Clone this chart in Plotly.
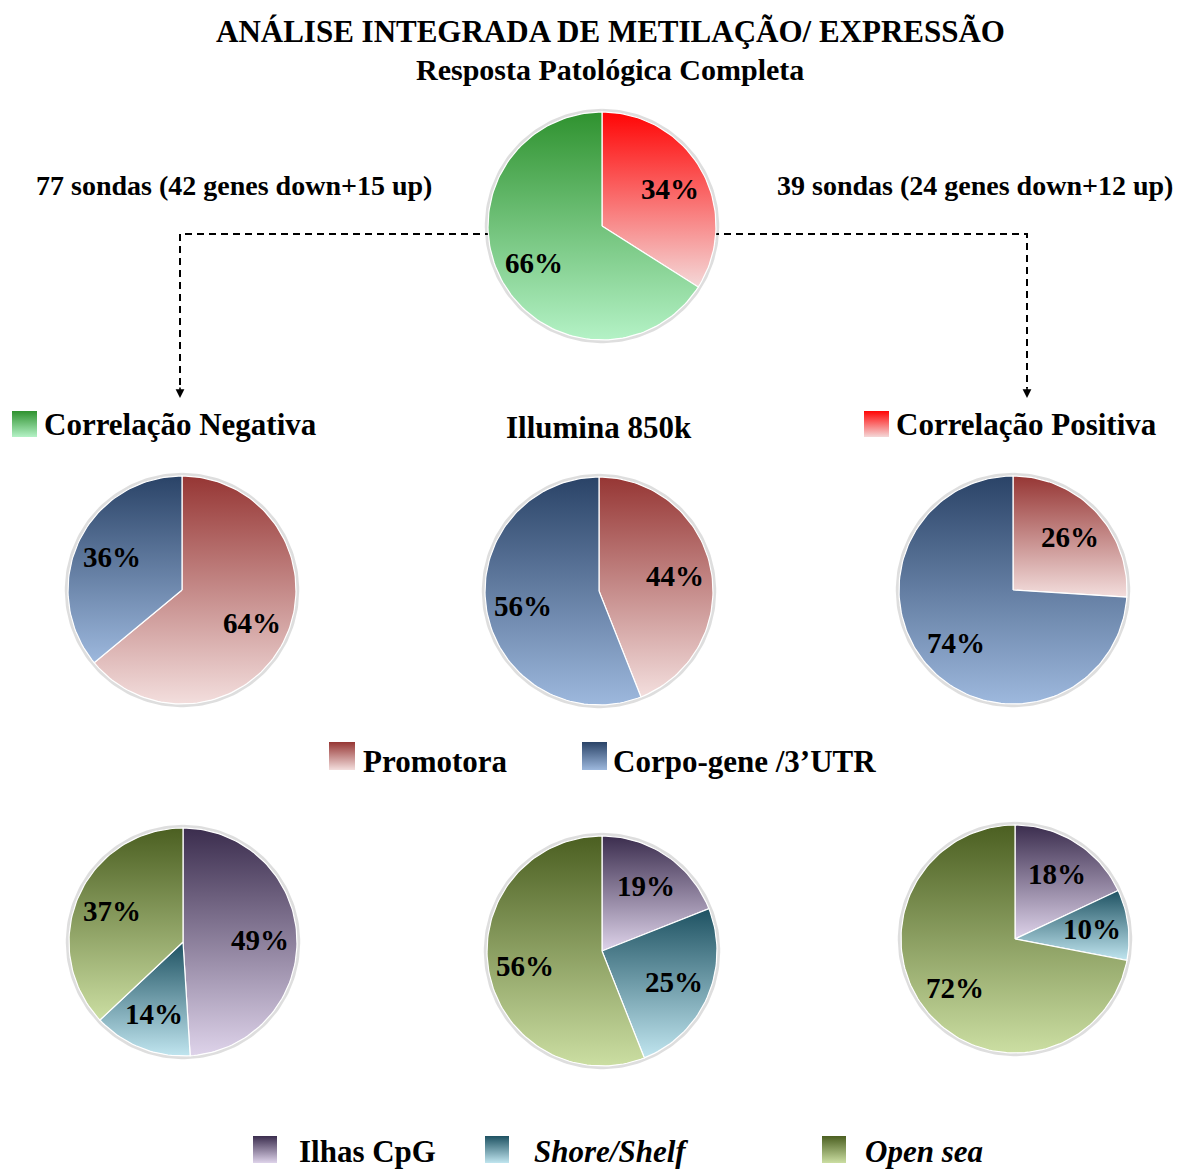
import numpy as np
import plotly.graph_objects as go

# ---- data -------------------------------------------------------------
top_labels = ["Correlação Positiva", "Correlação Negativa"]
top_values = [34, 66]

region_labels = ["Promotora", "Corpo-gene /3’UTR"]
region_negativa = [64, 36]
region_illumina = [44, 56]
region_positiva = [26, 74]

cpg_labels = ["Ilhas CpG", "Shore/Shelf", "Open sea"]
cpg_negativa = [49, 14, 37]
cpg_illumina = [19, 25, 56]
cpg_positiva = [18, 10, 72]

# ---- styling ----------------------------------------------------------
SERIF = "Liberation Serif"
top_colors = [("#ff0505", "#f4d8d8"), ("#2f922f", "#b4f2c6")]
region_colors = [("#963634", "#f3dedd"), ("#2a4367", "#9db8dd")]
cpg_colors = [("#3b2d4e", "#ded3ea"), ("#1e5262", "#c0e5ef"), ("#4b5f21", "#cbdea2")]

fig = go.Figure()


def gradient(c_top, c_bot):
    # vertical gradient: dark at the top edge, light at the bottom edge
    return dict(type="vertical", colorscale=[[0, c_bot], [1, c_top]])


def add_pie(values, colors, cx, cy, r, label_frac=0.68, font_size=29):
    """Draw a pie clockwise from 12 o'clock as gradient-filled wedges."""
    total = float(sum(values))
    # soft halo around the disc
    t = np.linspace(0, 2 * np.pi, 200)
    fig.add_trace(go.Scatter(x=cx + (r + 1.5) * np.sin(t), y=cy - (r + 1.5) * np.cos(t),
                             mode="lines", line=dict(color="rgba(0,0,0,0.13)", width=3.5),
                             hoverinfo="skip"))
    start = 0.0
    for v, (c_top, c_bot) in zip(values, colors):
        frac = v / total
        a0, a1 = start * 2 * np.pi, (start + frac) * 2 * np.pi
        ang = np.linspace(a0, a1, max(8, int(200 * frac)))
        xs = np.concatenate([[cx], cx + r * np.sin(ang), [cx]])
        ys = np.concatenate([[cy], cy - r * np.cos(ang), [cy]])
        fig.add_trace(go.Scatter(
            x=xs, y=ys, mode="lines", fill="toself",
            line=dict(color="white", width=1.2),
            fillgradient=gradient(c_top, c_bot),
            hoverinfo="skip"))
        mid = (start + frac / 2) * 2 * np.pi
        fig.add_annotation(x=cx + label_frac * r * np.sin(mid), y=cy - label_frac * r * np.cos(mid),
                           text=f"<b>{v}%</b>", showarrow=False,
                           font=dict(family=SERIF, size=font_size, color="black"))
        start += frac


def add_swatch(x0, y0, w, h, c_top, c_bot):
    fig.add_trace(go.Scatter(
        x=[x0, x0 + w, x0 + w, x0, x0], y=[y0, y0, y0 + h, y0 + h, y0],
        mode="lines", fill="toself", line=dict(width=0, color="rgba(0,0,0,0)"),
        fillgradient=gradient(c_top, c_bot),
        hoverinfo="skip"))


def add_text(x, y, text, size, anchor="center", italic=False):
    body = f"<i>{text}</i>" if italic else text
    fig.add_annotation(x=x, y=y, text=f"<b>{body}</b>", showarrow=False, xanchor=anchor,
                       font=dict(family=SERIF, size=size, color="black"))


# ---- dashed connectors ------------------------------------------------
dash = dict(color="black", width=2, dash="7px,5px")
fig.add_shape(type="path", path="M 492,234 L 180,234 L 180,388", line=dash, layer="below")
fig.add_shape(type="path", path="M 712,234 L 1027,234 L 1027,388", line=dash, layer="below")
for ax_x in (180, 1027):
    fig.add_annotation(x=ax_x, y=398, ax=ax_x, ay=386, axref="x", ayref="y",
                       text="", showarrow=True, arrowhead=2, arrowsize=1.1,
                       arrowwidth=1.6, arrowcolor="black")

# ---- pies -------------------------------------------------------------
R = 114
add_pie(top_values, top_colors, 602, 226, R)

add_pie(region_negativa, region_colors, 182, 590, R)
add_pie(region_illumina, region_colors, 599, 591, R)
add_pie(region_positiva, region_colors, 1013, 590, R)

add_pie(cpg_negativa, cpg_colors, 183, 942, R)
add_pie(cpg_illumina, cpg_colors, 602, 951, R + 1)
add_pie(cpg_positiva, cpg_colors, 1015, 939, R)

# ---- texts ------------------------------------------------------------
add_text(610, 31, "ANÁLISE INTEGRADA DE METILAÇÃO/ EXPRESSÃO", 31)
add_text(610, 69, "Resposta Patológica Completa", 30)
add_text(234, 185, "77 sondas (42 genes down+15 up)", 28)
add_text(975, 185, "39 sondas (24 genes down+12 up)", 28)

add_swatch(12, 411, 25, 26, *top_colors[1])
add_text(42, 424, top_labels[1], 31, anchor="left")
add_text(599, 427, "Illumina 850k", 31)
add_swatch(864, 411, 25, 26, *top_colors[0])
add_text(894, 424, top_labels[0], 31, anchor="left")

# region legend
add_swatch(329, 742, 26, 28, *region_colors[0])
add_text(361, 761, region_labels[0], 31, anchor="left")
add_swatch(582, 742, 25, 28, *region_colors[1])
add_text(611, 761, region_labels[1], 31, anchor="left")

# CpG context legend
add_swatch(253, 1136, 24, 27, *cpg_colors[0])
add_text(297, 1151, cpg_labels[0], 31, anchor="left")
add_swatch(485, 1136, 24, 27, *cpg_colors[1])
add_text(532, 1151, cpg_labels[1], 31, anchor="left", italic=True)
add_swatch(822, 1136, 24, 27, *cpg_colors[2])
add_text(863, 1151, cpg_labels[2], 31, anchor="left", italic=True)

fig.update_layout(
    width=1177, height=1169, margin=dict(l=0, r=0, t=0, b=0),
    paper_bgcolor="white", plot_bgcolor="white", showlegend=False,
    xaxis=dict(range=[0, 1177], visible=False, fixedrange=True),
    yaxis=dict(range=[1169, 0], visible=False, fixedrange=True),
)

fig.write_html("out.html")
